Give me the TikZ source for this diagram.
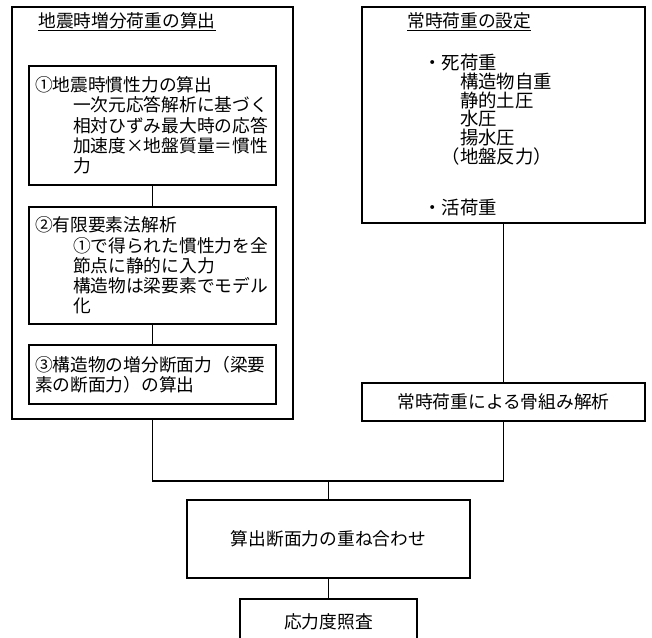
\documentclass[tikz,border=0pt]{standalone}
\usepackage{fontspec}
\setmainfont{Noto Sans CJK JP}
\usepackage{tikz}
\usetikzlibrary{positioning, calc}
\newcommand{\jtext}{\fontsize{13.3}{15.2}\selectfont}
\newcommand{\jlist}{\fontsize{13.8}{14}\selectfont}
\newcommand{\ind}{\hspace*{28.5pt}}
\tikzset{
  bigbox/.style={rectangle, draw=black, line width=1.1pt},
  stepbox/.style={rectangle, draw=black, line width=1pt, minimum width=185.25pt, text width=176.25pt, inner xsep=4.5pt, inner ysep=0pt, align=left, font=\jtext},
  resultbox/.style={rectangle, draw=black, line width=1.1pt, minimum width=212.25pt, align=center, font=\jtext},
  titletext/.style={anchor=base west, inner sep=0pt, font=\jtext},
  listtext/.style={inner sep=0pt, align=left, font=\jlist},
  link/.style={line width=1pt}
}

\begin{document}
\begin{tikzpicture}[x=0.75pt, y=-0.75pt]

    \useasboundingbox (0,0) rectangle (652,637);
    \clip (0,0) rectangle (652,637);

    % =================  LADO IZQUIERDO: 地震時増分荷重 =================
    \node[bigbox, minimum width=210.75pt, minimum height=309pt] (jishin) at (152.5,213) {};
    \node[titletext] (jishinT) at (38,27) {\underline{地震時増分荷重の算出}};

    \node[stepbox, minimum height=89.25pt] (s1) at (152.5,125.5) {%
        ①地震時慣性力の算出\\
        \ind 一次元応答解析に基づく\\
        \ind 相対ひずみ最大時の応答\\
        \ind 加速度×地盤質量＝慣性\\
        \ind 力};

    \node[stepbox, minimum height=87.75pt] (s2) at (152.5,265.5) {%
        ②有限要素法解析\\
        \ind ①で得られた慣性力を全\\
        \ind 節点に静的に入力\\
        \ind 構造物は梁要素でモデル\\
        \ind 化};

    \node[stepbox, minimum height=44.25pt] (s3) at (152.5,374.5) {%
        ③構造物の増分断面力（梁要\\
        素の断面力）の算出};

    \draw[link] (s1) -- (s2);
    \draw[link] (s2) -- (s3);

    % =================  LADO DERECHO: 常時荷重 =================
    \node[bigbox, minimum width=212.25pt, minimum height=162pt] (jouji) at (503.5,115) {};
    \node[titletext] (joujiT) at (407,27) {\underline{常時荷重の設定}};

    \node[listtext, anchor=north west] (dead) at (423,54) {%
        ・死荷重\\
        \hspace*{2em}構造物自重\\
        \hspace*{2em}静的土圧\\
        \hspace*{2em}水圧\\
        \hspace*{2em}揚水圧\\
        \hspace*{1em}（地盤反力）};
    \node[listtext, anchor=west] (live) at (423,207) {・活荷重};

    \node[resultbox, minimum height=28.5pt] (frame) at (503.5,402) {常時荷重による骨組み解析};
    \draw[link] (jouji) -- (frame);

    % =================  RESULTADO =================
    \coordinate (jn) at (328.5,481);
    \node[resultbox, line width=1.8pt, minimum height=58.5pt] (merge) at (328.5,539) {算出断面力の重ね合わせ};
    \node[resultbox, minimum width=132.75pt, minimum height=34.5pt] (check) at (328.5,622) {応力度照査};

    \draw[link] (jishin.south) |- (jn) -| (frame.south);
    \draw[link] (jn) -- (merge);
    \draw[link] (merge) -- (check);

\end{tikzpicture}
\end{document}
